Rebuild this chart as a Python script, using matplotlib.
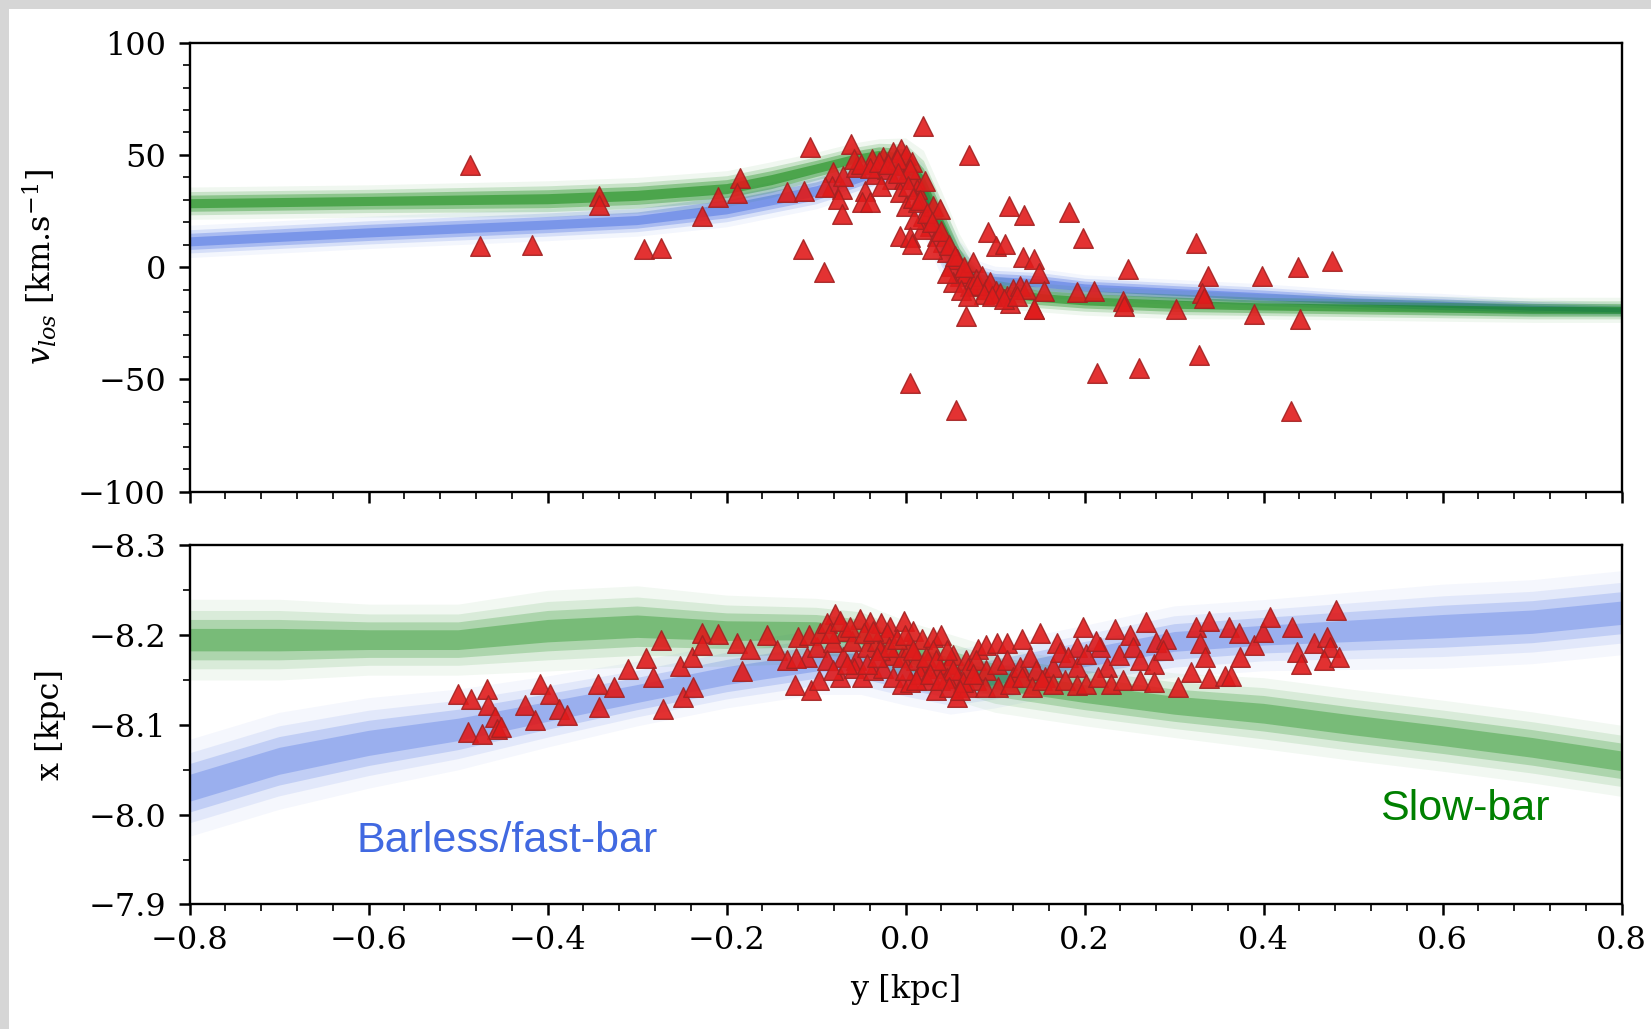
import numpy as np
import matplotlib
matplotlib.use('Agg')
import matplotlib.pyplot as plt
from matplotlib.patches import Rectangle

plt.rcParams['font.family'] = 'DejaVu Serif'
plt.rcParams['mathtext.fontset'] = 'dejavuserif'

# ---- simulation streams (centre line and half width)
# top panel: v_los vs y
top_y = [-0.8, -0.6, -0.4, -0.3, -0.2, -0.15, -0.1, -0.06, -0.03, 0.0,
         0.02, 0.04, 0.06, 0.08, 0.1, 0.15, 0.2, 0.3, 0.4, 0.5, 0.6, 0.7, 0.8]
slow_v = [28.5, 29.5, 30.5, 32, 35, 39, 44, 48, 50, 48,
          36, 18, 2, -8, -11, -13.5, -15, -16.5, -17.5, -18, -18.5, -19, -19]
slow_v_hw = [4.5, 4.5, 5, 5, 5, 5, 4.5, 4.5, 4.5, 6,
             10, 10, 8, 5.5, 4.5, 4, 4, 4, 3.5, 3.5, 3.5, 3.5, 3.5]
fast_v = [11.5, 15.5, 19, 21, 26, 30, 34, 39, 43, 42,
          30, 12, -1, -5, -6, -7, -9, -11, -13, -15, -16.5, -18, -19]
fast_v_hw = [4.5, 4.5, 4.5, 4.5, 5, 5, 5, 5, 5, 7,
             10, 10, 8, 5, 4, 4, 3.5, 3.5, 3.5, 3, 3, 2.5, 2]

# bottom panel: x vs y
bot_y = [-0.8, -0.7, -0.6, -0.5, -0.4, -0.3, -0.2, -0.1, -0.05, 0.0, 0.05,
         0.1, 0.2, 0.3, 0.4, 0.5, 0.6, 0.7, 0.8]
slow_x = [-8.195, -8.195, -8.195, -8.195, -8.205, -8.21, -8.205, -8.205, -8.2,
          -8.18, -8.165, -8.15, -8.135, -8.122, -8.113, -8.1, -8.088, -8.075, -8.06]
slow_x_hw = [0.025, 0.025, 0.022, 0.022, 0.025, 0.025, 0.022, 0.02, 0.02,
             0.02, 0.02, 0.02, 0.02, 0.02, 0.022, 0.022, 0.022, 0.022, 0.022]
fast_x = [-8.03, -8.06, -8.08, -8.095, -8.115, -8.135, -8.155, -8.17, -8.17,
          -8.158, -8.148, -8.155, -8.175, -8.193, -8.2, -8.205, -8.21, -8.215, -8.225]
fast_x_hw = [0.03, 0.03, 0.028, 0.025, 0.022, 0.02, 0.02, 0.02, 0.02,
             0.02, 0.02, 0.02, 0.02, 0.022, 0.022, 0.024, 0.026, 0.026, 0.026]

# ---- observed stars (red triangles)
obs_top_y = [-0.487, -0.475, -0.417, -0.343, -0.343, -0.292, -0.273, -0.228, -0.210,
             -0.185, -0.188, -0.132, -0.114, -0.107, -0.115, -0.091, -0.061,
             -0.081, -0.082, -0.071, -0.070, -0.076, -0.071, -0.045, -0.049, -0.040,
             -0.055, -0.034, -0.058, -0.090,
             -0.025, -0.014, -0.005, 0.001, -0.021, -0.006, 0.007, -0.015, -0.002,
             0.011, -0.028, -0.037, -0.010, 0.005,
             -0.006, 0.001, 0.013, 0.020, 0.022, 0.027, 0.031, 0.035, 0.038, 0.042,
             0.046, 0.051, 0.057, 0.061, 0.068, 0.072, 0.075, 0.079, 0.085, 0.090,
             0.094, 0.101, 0.106, 0.113, 0.117, 0.120, 0.128, 0.135, 0.143, 0.068,
             0.053, 0.046, 0.029, 0.018, 0.009, 0.014,
             -0.050, -0.040, -0.030, -0.020, -0.008, 0.003, 0.008, 0.016, 0.024,
             0.030, 0.040, 0.048, 0.055, 0.065, 0.080, 0.088, 0.097, 0.110, 0.125,
             0.062, 0.070,
             0.019, 0.071, 0.005, 0.056, 0.115, 0.132, 0.183, 0.198, 0.092, 0.101,
             0.111, 0.131, 0.143, 0.149, 0.155, 0.191, 0.211, -0.006, 0.005, 0.007,
             0.143, 0.243, 0.244, 0.248, 0.214, 0.261, 0.302, 0.324, 0.338, 0.331,
             0.333, 0.328, 0.389, 0.398, 0.439, 0.441, 0.476, 0.431]
obs_top_v = [45.6, 9.5, 9.8, 31.9, 27.7, 8.0, 8.6, 22.7, 31.2,
             39.6, 33.1, 33.7, 34.0, 53.6, 8.2, -2.2, 54.8,
             42.3, 36.3, 34.8, 40.8, 30.4, 23.7, 34.1, 28.9, 28.9,
             44.5, 41.5, 48.3, 35.5,
             49.0, 51.3, 52.8, 49.8, 43.8, 45.3, 46.8, 39.3, 39.3,
             39.3, 36.3, 48.3, 48.3, 43.8,
             33.4, 27.4, 34.8, 22.9, 38.6, 18.5, 27.4, 14.0, 25.9, 11.0,
             6.6, 0.6, 3.6, -3.9, -2.4, -8.3, 2.1, -5.4, -3.9, -9.8,
             -6.8, -10.5, -11.3, -12.8, -15.8, -9.8, -8.3, -9.8, -18.8, -21.8,
             -6.8, -2.4, 8.1, 17.0, 21.4, 28.9,
             46, 44, 47, 46, 42, 36, 31, 30, 24,
             20, 16, 10, 5, 0, -8, -12, -13, -14, -13,
             -10, -13,
             63.0, 50.0, -51.8, -63.5, 27.4, 23.2, 24.7, 12.8, 15.5, 9.6,
             10.3, 4.4, 3.6, -2.4, -10.5, -11.0, -10.5, 14.0, 13.3, 10.3,
             -18.5, -15.0, -17.3, -0.9, -47.1, -44.8, -18.5, 10.7, -3.9, -11.3,
             -13.6, -39.3, -21.0, -3.9, -0.1, -23.2, 2.8, -64.2]

obs_bot_y = [-0.500, -0.486, -0.468, -0.466, -0.459, -0.457, -0.489, -0.473, -0.452,
             -0.425, -0.414, -0.408, -0.397, -0.387, -0.378, -0.344, -0.342, -0.326,
             -0.310, -0.290, -0.282, -0.271, -0.273, -0.252, -0.249, -0.239, -0.237,
             -0.228, -0.227, -0.210, -0.188, -0.183,
             -0.174, -0.155, -0.144, -0.124, -0.106, -0.097, -0.133, -0.120, -0.108,
             -0.110, -0.099, -0.096, -0.122,
             -0.079, -0.068, -0.051, -0.040, -0.027, -0.017, -0.002, 0.008, 0.018,
             0.031, 0.040, 0.053, 0.068, 0.081, 0.090, 0.102, 0.113, 0.130, 0.150,
             0.169, 0.191, 0.198, 0.217, 0.234, 0.251, 0.269, 0.280, 0.291,
             -0.088, -0.081, -0.070, -0.060, -0.055, -0.043, -0.032, -0.021, -0.014,
             -0.004, 0.005, 0.012, 0.020, 0.031, 0.038, 0.049, 0.059, 0.070, 0.079,
             0.090, 0.102, 0.113, 0.120, 0.128, 0.139, 0.146, 0.156, 0.165, 0.172,
             0.182, 0.191, 0.202, 0.213, 0.225, 0.239, 0.254, 0.262, 0.277, 0.288,
             -0.088, -0.073, -0.058, -0.049, -0.036, -0.025, -0.014, -0.004, 0.005,
             0.016, 0.023, 0.034, 0.046, 0.057, 0.070, 0.079, 0.089, 0.103, 0.117,
             0.130, 0.141, 0.152, 0.165, 0.178, 0.191, 0.202, 0.215, 0.230, 0.243,
             0.262, 0.278,
             -0.084, -0.073, -0.062, -0.047, -0.036, -0.029, -0.019, -0.010, -0.001,
             0.008, 0.023, 0.034, 0.046, 0.053, 0.064, 0.075, -0.081, -0.066,
             -0.043, -0.032, -0.001, 0.012, 0.027, 0.038, 0.049, 0.061,
             0.304, 0.319, 0.324, 0.339, 0.329, 0.334, 0.339, 0.357, 0.364, 0.361,
             0.372, 0.374, 0.389, 0.399, 0.407, 0.432, 0.481, 0.437, 0.442, 0.456,
             0.471, 0.474, 0.467, 0.484]
obs_bot_x = [-8.134, -8.129, -8.140, -8.122, -8.109, -8.096, -8.092, -8.090, -8.098,
             -8.122, -8.105, -8.146, -8.135, -8.118, -8.111, -8.146, -8.120, -8.142,
             -8.162, -8.175, -8.153, -8.118, -8.195, -8.166, -8.131, -8.176, -8.142,
             -8.202, -8.189, -8.201, -8.191, -8.160,
             -8.185, -8.200, -8.183, -8.144, -8.139, -8.150, -8.172, -8.198, -8.200,
             -8.176, -8.187, -8.202, -8.174,
             -8.224, -8.205, -8.218, -8.215, -8.213, -8.209, -8.216, -8.205, -8.196,
             -8.198, -8.200, -8.178, -8.172, -8.185, -8.189, -8.191, -8.191, -8.196,
             -8.202, -8.191, -8.187, -8.209, -8.187, -8.207, -8.200, -8.215, -8.192,
             -8.196,
             -8.213, -8.192, -8.176, -8.194, -8.172, -8.187, -8.194, -8.202, -8.178,
             -8.176, -8.187, -8.172, -8.166, -8.183, -8.163, -8.168, -8.153, -8.163,
             -8.172, -8.161, -8.168, -8.172, -8.153, -8.165, -8.176, -8.161, -8.153,
             -8.165, -8.181, -8.176, -8.165, -8.179, -8.194, -8.165, -8.178, -8.187,
             -8.172, -8.168, -8.183,
             -8.172, -8.153, -8.163, -8.153, -8.161, -8.163, -8.153, -8.146, -8.148,
             -8.157, -8.150, -8.139, -8.152, -8.131, -8.142, -8.150, -8.142, -8.142,
             -8.146, -8.153, -8.142, -8.150, -8.146, -8.150, -8.144, -8.146, -8.153,
             -8.146, -8.150, -8.150, -8.148,
             -8.202, -8.216, -8.209, -8.202, -8.205, -8.183, -8.187, -8.196, -8.200,
             -8.183, -8.176, -8.172, -8.183, -8.161, -8.148, -8.157, -8.161, -8.168,
             -8.168, -8.176, -8.161, -8.150, -8.157, -8.150, -8.142, -8.139,
             -8.142, -8.159, -8.209, -8.216, -8.191, -8.176, -8.152, -8.155, -8.155,
             -8.209, -8.202, -8.176, -8.189, -8.204, -8.220, -8.209, -8.228, -8.181,
             -8.168, -8.191, -8.198, -8.187, -8.172, -8.176]


def band(ax, xs, centre, half, color, layers):
    c = np.asarray(centre)
    h = np.asarray(half)
    for k, a in layers:
        ax.fill_between(xs, c - k * h, c + k * h, color=color, alpha=a,
                        lw=0, zorder=2)


top_layers = ((1.6, 0.06), (1.15, 0.16), (0.8, 0.3), (0.45, 0.45))
bot_layers = ((1.8, 0.05), (1.3, 0.1), (0.9, 0.2), (0.5, 0.3))


def style(ax):
    for s in ax.spines.values():
        s.set_linewidth(1.7)
    ax.tick_params(which='major', direction='out', length=8, width=1.8,
                   labelsize=23)
    ax.tick_params(which='minor', direction='out', length=5, width=1.2)
    ax.tick_params(axis='y', which='major', pad=9)
    ax.tick_params(axis='x', which='major', pad=7)


fig = plt.figure(figsize=(16.51, 10.29), dpi=100)
ax1 = fig.add_axes([0.1148, 0.5222, 0.8674, 0.4363])
ax2 = fig.add_axes([0.1148, 0.1210, 0.8674, 0.3490], sharex=ax1)

tri = dict(marker='^', s=200, c='#e01b1b', edgecolors='#a32222',
           linewidths=1.0, alpha=0.9, zorder=5)

band(ax1, top_y, fast_v, fast_v_hw, 'royalblue', top_layers)
band(ax1, top_y, slow_v, slow_v_hw, 'green', top_layers)
ax1.scatter(obs_top_y, obs_top_v, **tri)
ax1.set_xlim(-0.8, 0.8)
ax1.set_ylim(-100, 100)
ax1.set_yticks([-100, -50, 0, 50, 100])
ax1.set_yticks(np.arange(-100, 101, 10), minor=True)
ax1.set_ylabel(r'$v_{los}$ [km.s$^{-1}$]', fontsize=23, labelpad=14)
ax1.tick_params(labelbottom=False)
style(ax1)

band(ax2, bot_y, fast_x, fast_x_hw, 'royalblue', bot_layers)
band(ax2, bot_y, slow_x, slow_x_hw, 'green', bot_layers)
ax2.scatter(obs_bot_y, obs_bot_x, **tri)
ax2.set_ylim(-7.9, -8.3)
ax2.set_yticks([-8.3, -8.2, -8.1, -8.0, -7.9])
ax2.set_yticks(np.arange(-8.3, -7.89, 0.05), minor=True)
ax2.set_xticks(np.arange(-0.8, 0.81, 0.2))
ax2.set_xticks(np.arange(-0.8, 0.81, 0.04), minor=True)
ax2.set_xlabel('y [kpc]', fontsize=23, labelpad=13)
ax2.set_ylabel('x [kpc]', fontsize=23, labelpad=16)
style(ax2)

ax2.text(-0.613, -7.958, 'Barless/fast-bar', color='royalblue', fontsize=31,
         family='Liberation Sans', zorder=6)
ax2.text(0.530, -7.994, 'Slow-bar', color='green', fontsize=31,
         family='Liberation Sans', zorder=6)

# grey screenshot frame on the left and top
fig.add_artist(Rectangle((0, 0), 9 / 1651, 1, transform=fig.transFigure,
                         color='#d6d6d6', lw=0))
fig.add_artist(Rectangle((0, 1 - 9 / 1029), 1, 9 / 1029,
                         transform=fig.transFigure, color='#d6d6d6', lw=0))

fig.savefig('out.png', dpi=100)
